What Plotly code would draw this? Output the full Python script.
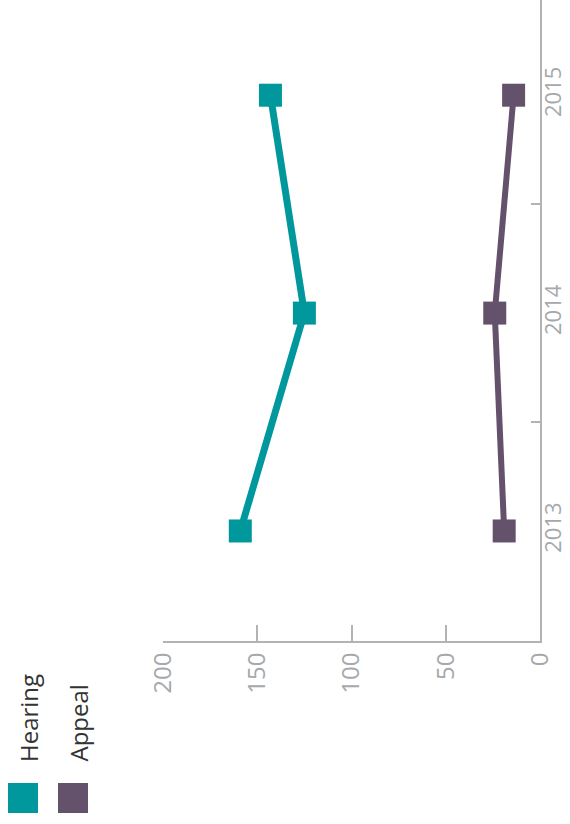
import plotly.graph_objects as go

# Data
years = [2013, 2014, 2015]
hearing = [159, 125, 143]
appeal = [19, 24, 14]
value_ticks = [0, 50, 100, 150, 200]
year_dividers = [2013.5, 2014.5]

teal = "#00979d"
purple = "#64526d"
axis_grey = "#b3b3b3"
label_grey = "#a6a8ab"
font_family = "Open Sans"

fig = go.Figure()
fig.add_trace(go.Scatter(
    x=hearing, y=years, mode="lines+markers", name="Hearing",
    line=dict(color=teal, width=7),
    marker=dict(symbol="square", size=23, color=teal),
))
fig.add_trace(go.Scatter(
    x=appeal, y=years, mode="lines+markers", name="Appeal",
    line=dict(color=purple, width=6),
    marker=dict(symbol="square", size=23, color=purple),
))

W, H = 570, 824
ml, mr, mt, mb = 163, 30, 0, 183
pw, ph = W - ml - mr, H - mt - mb


def px(x):
    return (x - ml) / pw


def py(y):
    return (H - mb - y) / ph


# Rotated legend: swatches and labels
legend_items = [("Hearing", teal, 8), ("Appeal", purple, 58)]
for name, color, left in legend_items:
    fig.add_shape(type="rect", xref="paper", yref="paper",
                  x0=px(left), x1=px(left + 30), y0=py(813), y1=py(783),
                  fillcolor=color, line=dict(width=0))
    fig.add_annotation(text=name, xref="paper", yref="paper",
                       x=px(left + 20), y=py(764), xanchor="center", yanchor="bottom",
                       textangle=-90, showarrow=False,
                       font=dict(family=font_family, size=24, color="#333333"))

fig.update_layout(
    width=W, height=H,
    margin=dict(l=ml, r=mr, t=mt, b=mb, autoexpand=False),
    paper_bgcolor="white", plot_bgcolor="white",
    showlegend=False,
    font=dict(family=font_family),
    xaxis=dict(
        range=[200, 0], tickvals=value_ticks, automargin=False,
        ticks="inside", ticklen=16, tickwidth=2, tickcolor=axis_grey,
        showline=True, linewidth=2, linecolor=axis_grey,
        showgrid=False, zeroline=False, tickangle=-90,
        tickfont=dict(family=font_family, size=24, color=label_grey),
    ),
    yaxis=dict(
        range=[2012.495, 2015.437], side="right", automargin=False,
        tickvals=years, ticktext=[str(y) for y in years], ticks="",
        minor=dict(tickvals=year_dividers, ticks="inside", ticklen=9,
                   tickwidth=2, tickcolor=axis_grey, showgrid=False),
        showline=True, linewidth=2, linecolor=axis_grey,
        showgrid=False, zeroline=False, tickangle=-90, ticklabelstandoff=-7,
        tickfont=dict(family=font_family, size=22, color=label_grey),
    ),
)

fig.write_html("out.html")
